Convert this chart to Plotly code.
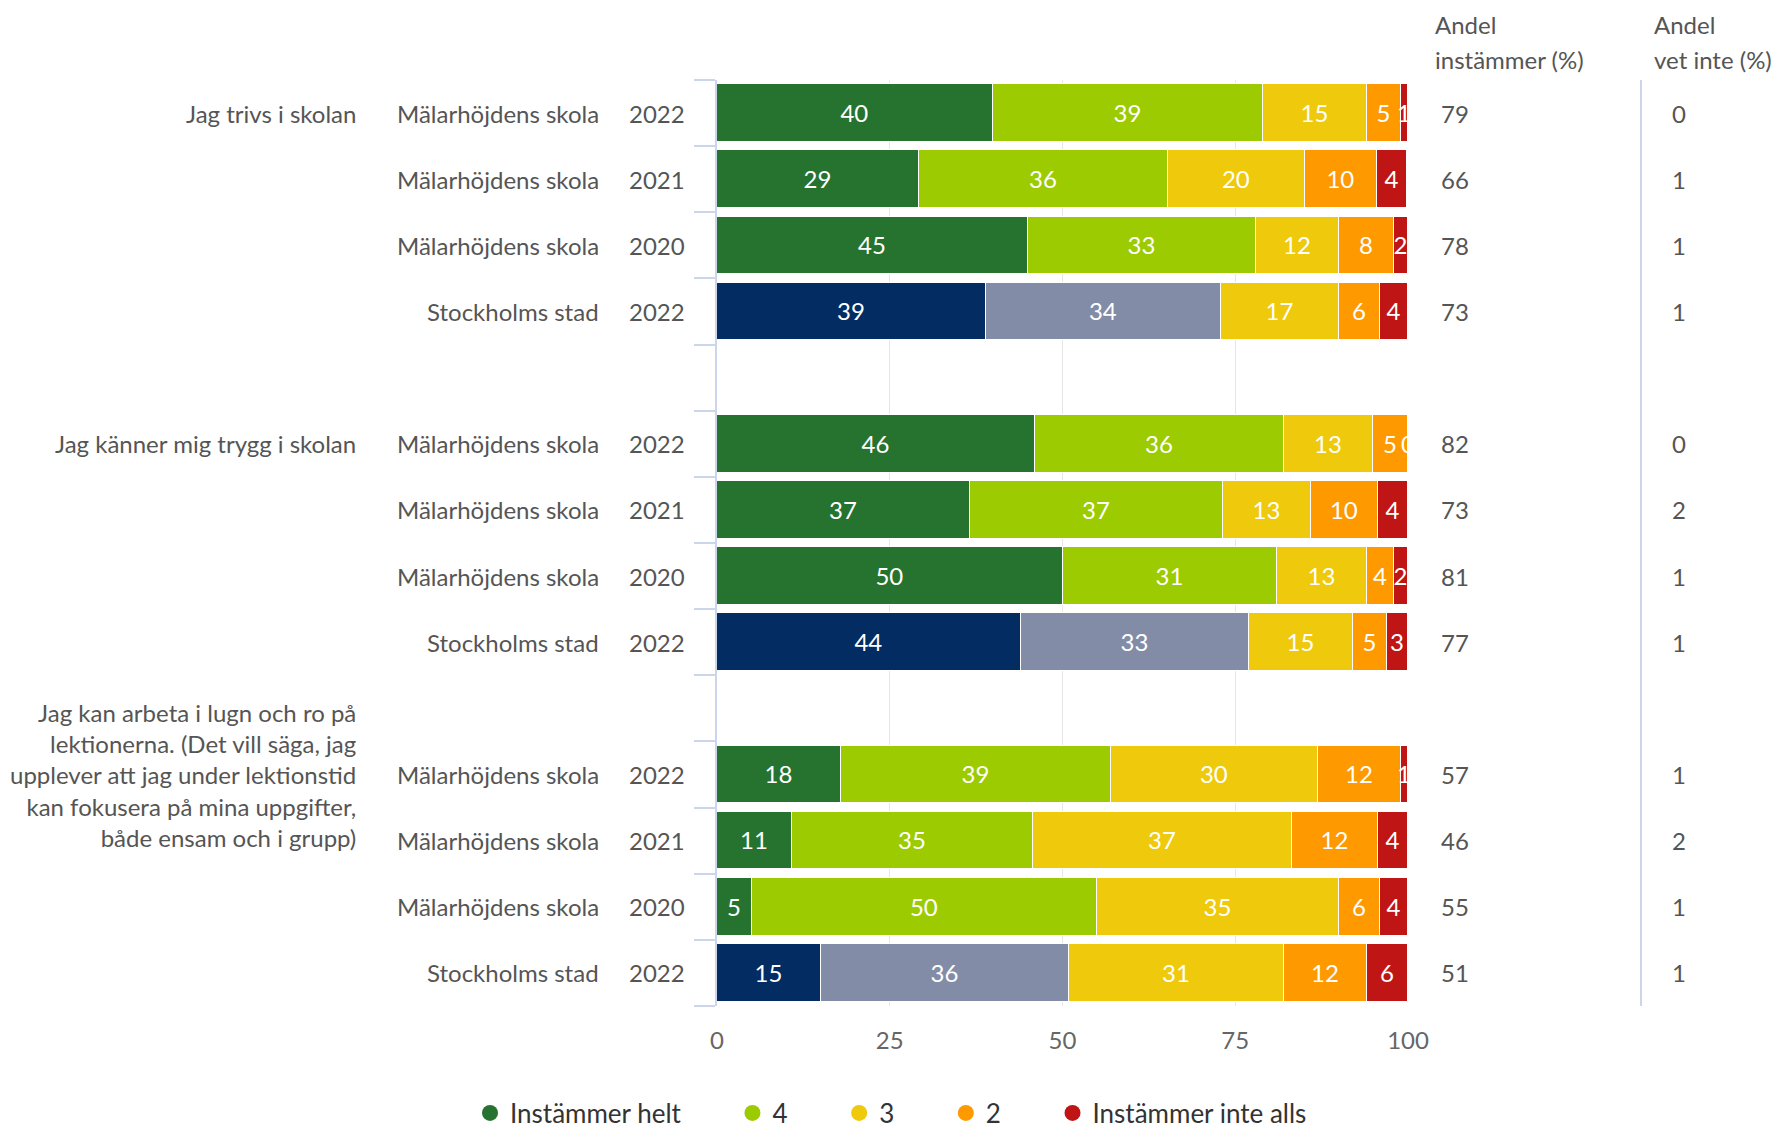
import plotly.graph_objects as go

# ---------------- data ----------------
questions = [
    "Jag trivs i skolan",
    "Jag känner mig trygg i skolan",
    "Jag kan arbeta i lugn och ro på<br>lektionerna. (Det vill säga, jag<br>upplever att jag under lektionstid<br>kan fokusera på mina uppgifter,<br>både ensam och i grupp)",
]
units = ["Mälarhöjdens skola", "Mälarhöjdens skola", "Mälarhöjdens skola", "Stockholms stad"]
years = ["2022", "2021", "2020", "2022"]

series_names = ["Instämmer helt", "4", "3", "2", "Instämmer inte alls"]
helt = [40, 29.2, 45, 39, 46, 36.6, 50, 44, 18, 10.9, 5, 15]
v4 = [39, 36.0, 33, 34, 36, 36.6, 31, 33, 39, 34.9, 50, 36]
v3 = [15, 19.9, 12, 17, 13, 12.7, 13, 15, 30, 37.4, 35, 31]
v2 = [5, 10.4, 8, 6, 5, 9.7, 4, 5, 12, 12.4, 6, 12]
inte = [1, 4.4, 2, 4, 0.1, 4.4, 2, 3, 1, 4.4, 4, 6]
andel_instammer = [79, 66, 78, 73, 82, 73, 81, 77, 57, 46, 55, 51]
andel_vet_inte = [0, 1, 1, 1, 0, 2, 1, 1, 1, 2, 1, 1]

# ---------------- style ----------------
colors = ["#267330", "#9BCB00", "#EFC90B", "#FE9900", "#C01515"]
stad_colors = ["#022C62", "#838CA7"]
FONT = "Lato"
TXT = "#555555"
FS = 24

OFF = 8  # page body margin compensation
W, H = 1783, 1126
L, T = 717 - OFF, 80 - OFF
R = W - (1408 - OFF)
B = H - (1006 - OFF)
pw = W - L - R
ph = H - T - B

def px_x(xpix):
    return (xpix - OFF - L) / pw

def px_y(ypix):
    return (H - B - (ypix - OFF)) / ph

# row positions: 4 rows per group, one empty row between groups
n_groups = len(questions)
rows = []
for g in range(n_groups):
    for i in range(len(units)):
        rows.append(g * 5 + i)
row_units = units * n_groups
row_years = years * n_groups

fig = go.Figure()
all_series = [helt, v4, v3, v2, inte]
for s, (name, vals) in enumerate(zip(series_names, all_series)):
    cols = []
    for k in range(len(vals)):
        if row_units[k] == "Stockholms stad" and s < 2:
            cols.append(stad_colors[s])
        else:
            cols.append(colors[s])
    fig.add_trace(go.Bar(
        x=vals, y=rows, orientation="h", name=name, showlegend=False,
        marker=dict(color=cols, line=dict(color="white", width=1.2)),
        width=0.87,
        texttemplate="%{x:.0f}", textposition="inside", insidetextanchor="middle",
        constraintext="none",
        textfont=dict(color="white", size=FS, family=FONT),
        hoverinfo="skip", cliponaxis=True,
    ))

# legend entries as circles
pad = "\u00a0" * 7
for name, c in zip(series_names, colors):
    fig.add_trace(go.Scatter(
        x=[None], y=[None], mode="markers", name=name + pad,
        marker=dict(color=c, size=24, symbol="circle"), showlegend=True,
        hoverinfo="skip",
    ))

annotations = []
# left labels
for g, q in enumerate(questions):
    annotations.append(dict(x=px_x(358), xref="paper", y=g * 5, yref="y", text=q,
                            showarrow=False, xanchor="right", yanchor="middle",
                            align="right", font=dict(family=FONT, size=FS, color=TXT)))
for k, r in enumerate(rows):
    annotations.append(dict(x=px_x(601), xref="paper", y=r, yref="y", text=row_units[k],
                            showarrow=False, xanchor="right", yanchor="middle",
                            font=dict(family=FONT, size=FS, color=TXT)))
    annotations.append(dict(x=px_x(687), xref="paper", y=r, yref="y", text=row_years[k],
                            showarrow=False, xanchor="right", yanchor="middle",
                            font=dict(family=FONT, size=FS, color=TXT)))
    annotations.append(dict(x=px_x(1439), xref="paper", y=r, yref="y", text=str(andel_instammer[k]),
                            showarrow=False, xanchor="left", yanchor="middle",
                            font=dict(family=FONT, size=FS, color=TXT)))
    annotations.append(dict(x=px_x(1679), xref="paper", y=r, yref="y", text=str(andel_vet_inte[k]),
                            showarrow=False, xanchor="center", yanchor="middle",
                            font=dict(family=FONT, size=FS, color=TXT)))

# column headers
for xpix, lines in [(1433, ["Andel", "instämmer (%)"]), (1652, ["Andel", "vet inte (%)"])]:
    for ypix, line in zip([25, 59], lines):
        annotations.append(dict(x=px_x(xpix), xref="paper", y=px_y(ypix), yref="paper", text=line,
                                showarrow=False, xanchor="left", yanchor="middle",
                                font=dict(family=FONT, size=FS, color=TXT)))

n_rows = n_groups * 5 - 1
fig.update_layout(
    width=W, height=H,
    margin=dict(l=L, r=R, t=T, b=B, autoexpand=False),
    paper_bgcolor="white", plot_bgcolor="white",
    barmode="stack", bargap=0,
    font=dict(family=FONT, size=FS, color=TXT),
    annotations=annotations,
    shapes=[dict(type="line", xref="paper", yref="paper", x0=px_x(1641), x1=px_x(1641),
                 y0=0, y1=1, line=dict(color="#ccd6eb", width=2))],
    xaxis=dict(range=[0, 100], tickvals=[0, 25, 50, 75, 100], showgrid=True,
               gridcolor="#e6e6e6", gridwidth=1, zeroline=False, showline=False,
               tickfont=dict(family=FONT, size=FS, color="#666666"), ticklabelstandoff=18,
               fixedrange=True),
    yaxis=dict(range=[n_rows - 0.5, -0.5], tickvals=[i - 0.5 for i in range(n_rows + 1)],
               showticklabels=False, ticks="outside", ticklen=21, tickwidth=2, tickcolor="#ccd6eb",
               showline=True, linecolor="#ccd6eb", linewidth=2, showgrid=False, zeroline=False,
               fixedrange=True),
    legend=dict(orientation="h", x=px_x(470), xanchor="left", y=px_y(1113), yanchor="middle",
                font=dict(family=FONT, size=26, color="#333333"), itemsizing="trace",
                traceorder="normal", bgcolor="rgba(0,0,0,0)"),
    showlegend=True,
)

fig.write_html("out.html")
